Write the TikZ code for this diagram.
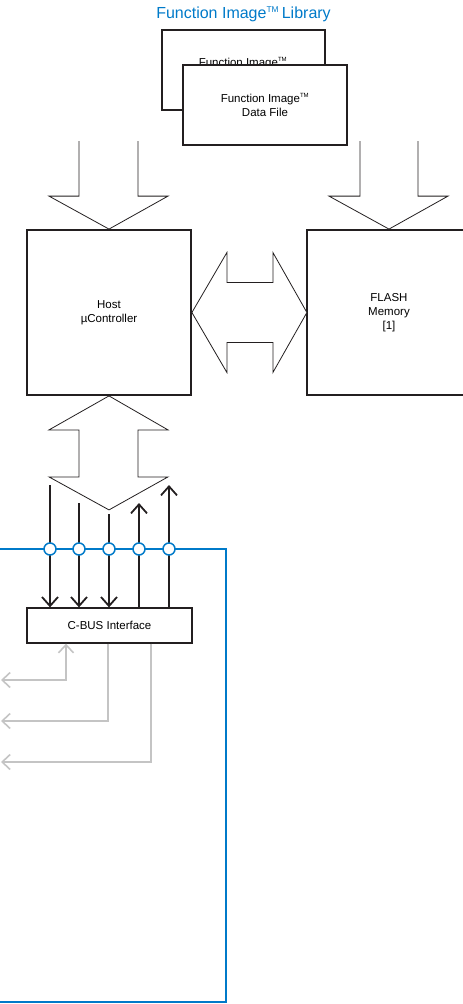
\documentclass[tikz,border=0pt]{standalone}
\usepackage{fontspec}
\usepackage{graphicx}
\setmainfont{Liberation Sans}
\usetikzlibrary{arrows.meta}
\definecolor{busblue}{RGB}{0,122,201}
\definecolor{sidegrey}{RGB}{196,196,196}
\definecolor{ink}{RGB}{35,31,32}
\newcommand{\tmk}{\textsuperscript{\scalebox{0.75}{TM}}}

\begin{document}
\begin{tikzpicture}[x=1pt, y=-1pt,
      box/.style={draw=ink, line width=1.3pt, fill=white, align=center,
                  inner sep=0pt, font=\fontsize{11.5}{14}\selectfont},
      bigbox/.style={box, line width=1.8pt, minimum width=164pt, minimum height=165pt},
      libbox/.style={box, minimum width=163pt, minimum height=80pt},
      blockar/.style={draw=ink, line width=0.8pt, fill=white, line join=miter},
      sar/.style={draw=ink, line width=1.8pt, -{Straight Barb[length=9pt, width=16pt]}},
      gar/.style={draw=sidegrey, line width=1.6pt, >={Straight Barb[length=8pt, width=15pt]}},
      tap/.style={circle, draw=busblue, line width=1.5pt, fill=white,
                  minimum size=12pt, inner sep=0pt}
    ]
    \useasboundingbox (0,0) rectangle (463,1004);
    \clip (0,0) rectangle (463,1004);
    % library
    \node[anchor=base, text=busblue, font=\fontsize{16}{18}\selectfont]
      (title) at (243.5,18.5) {Function Image\tmk\,Library};
    \node[libbox] (libback) at (243.5,70) {};
    \node[font=\fontsize{11.5}{14}\selectfont] (libbacktxt) at (243,63) {Function Image\tmk};
    \node[libbox, minimum width=164pt] (libfront) at (265,105) {Function Image\tmk\\Data File};
    % main blocks
    \node[bigbox] (host) at (109,312.5) {Host\\µController};
    \node[bigbox] (flash) at (389,312.5) {FLASH\\Memory\\{[1]}};
    \node[box, minimum width=165pt, minimum height=35pt] (cbus) at (109.5,625.5) {C-BUS Interface};
    % block arrows
    \draw[blockar, shift={(host.north)}] (-30,-88) -- (-30,-33) -- (-60,-33) -- (0,0)
      -- (59,-33) -- (29,-33) -- (29,-88);
    \draw[blockar, shift={(flash.north)}] (-29,-88) -- (-29,-33) -- (-60,-33) -- (0,0)
      -- (59,-33) -- (29,-33) -- (29,-88);
    \draw[blockar, shift={(host.east)}] (0,0) -- (35,-60) -- (35,-30) -- (81,-30)
      -- (81,-60) -- (115,0) -- (81,60) -- (81,30) -- (35,30) -- (35,60) -- cycle;
    \draw[blockar, shift={(host.south)}] (0,0) -- (59,34) -- (29,34) -- (29,81)
      -- (59,81) -- (0,114) -- (-60,81) -- (-30,81) -- (-30,34) -- (-60,34) -- cycle;
    % c-bus
    \draw[busblue, line width=2.5pt] (0,549) -- (226,549) -- (226,1002) -- (0,1002);
    \coordinate (s1) at (50,485);
    \coordinate (s2) at (79,503);
    \coordinate (s3) at (109,514);
    \coordinate (e4) at (139,503);
    \coordinate (e5) at (169,485);
    \draw[sar] (s1) -- (s1 |- cbus.north);
    \draw[sar] (s2) -- (s2 |- cbus.north);
    \draw[sar] (s3) -- (s3 |- cbus.north);
    \draw[sar] (e4 |- cbus.north) -- (e4);
    \draw[sar] (e5 |- cbus.north) -- (e5);
    \foreach \x [count=\i] in {50,79,109,139,169}
      \node[tap] (t\i) at (\x,549) {};
    % side lines
    \coordinate (g1) at (1,680);
    \coordinate (g2) at (1,721);
    \coordinate (g3) at (1,762);
    \coordinate (h1) at (66,680);
    \coordinate (h2) at (108,721);
    \coordinate (h3) at (151,762);
    \draw[gar, <->] (g1) -- (h1) -- (h1 |- cbus.south);
    \draw[gar, ->] (h2 |- cbus.south) -- (h2) -- (g2);
    \draw[gar, ->] (h3 |- cbus.south) -- (h3) -- (g3);
  \end{tikzpicture}
\end{document}
